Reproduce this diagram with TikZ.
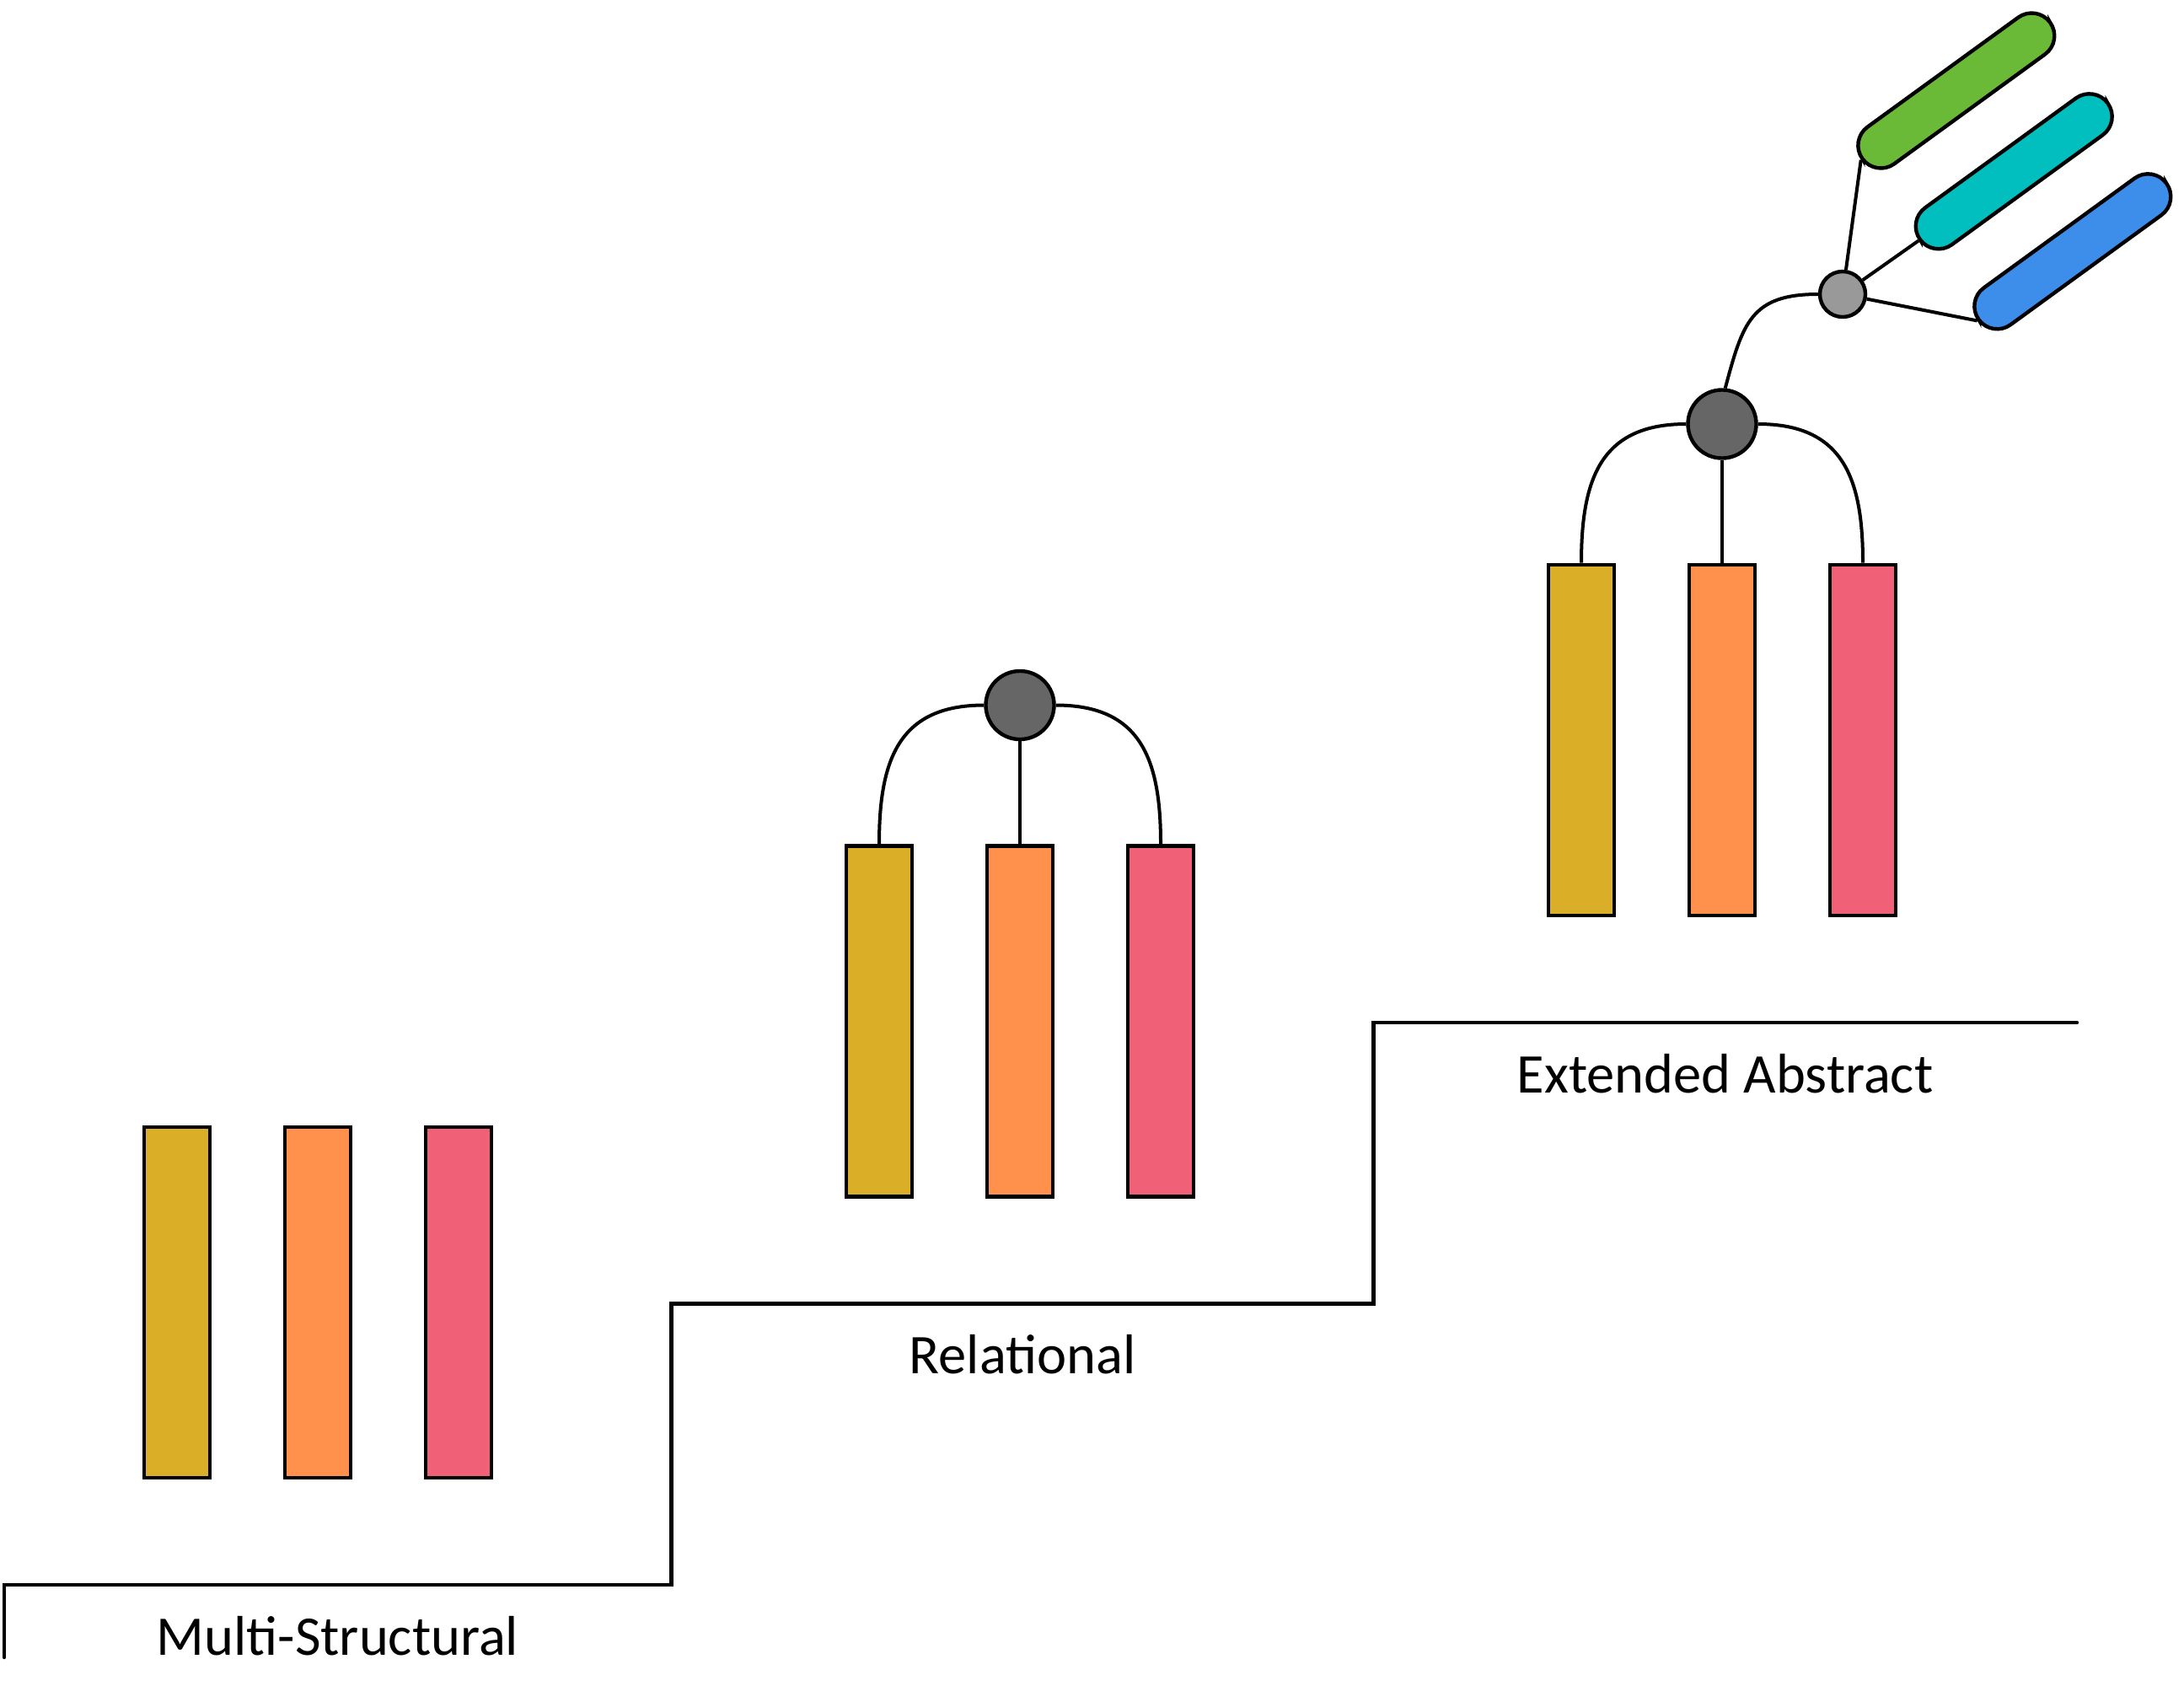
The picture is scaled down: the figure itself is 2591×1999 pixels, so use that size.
\documentclass[tikz,border=0pt]{standalone}
\usepackage{fontspec}
\setmainfont{Carlito}
\usepackage{tikz}

\definecolor{barYellow}{HTML}{DBAE28}
\definecolor{barOrange}{HTML}{FF914D}
\definecolor{barPink}{HTML}{F06077}
\definecolor{pillGreen}{HTML}{6BBA37}
\definecolor{pillCyan}{HTML}{02BFBF}
\definecolor{pillBlue}{HTML}{3D8DEB}
\definecolor{hubDark}{HTML}{666666}
\definecolor{hubLight}{HTML}{999999}

\begin{document}
\begin{tikzpicture}[x=0.01cm,y=-0.01cm,line width=0.044cm,
  bar/.style={draw,rectangle,inner sep=0pt,minimum width=0.78cm,minimum height=4.16cm},
  hub/.style={draw,circle,inner sep=0pt,fill=hubDark,minimum size=0.81cm},
  subhub/.style={draw,circle,inner sep=0pt,fill=hubLight,minimum size=0.54cm},
  pill/.style={draw,rectangle,inner sep=0pt,rounded corners=0.27cm,minimum width=2.75cm,minimum height=0.54cm,rotate=36},
  lbl/.style={anchor=base,inner sep=0pt,font=\fontsize{18.9pt}{23pt}\selectfont},
  link/.style={line width=0.04cm}]
\useasboundingbox (0,0) rectangle (2591,1999);

% staircase
\draw[line cap=round] (5,1966) -- (5,1880) -- (796.5,1880) -- (796.5,1546.5)
  -- (1629.5,1546.5) -- (1629.5,1213) -- (2464,1213);
\node[lbl] (mslbl) at (400.5,1963) {Multi-Structural};
\node[lbl] (rellbl) at (1213,1629.5) {Relational};
\node[lbl] (extlbl) at (2046.5,1296) {Extended Abstract};

% bars, one group per level
\foreach \lvl/\dx/\dy in {ms/0/0, rel/833/-333.5, ext/1666/-667}
  \foreach \k/\col in {1/barYellow,2/barOrange,3/barPink}
    \node[bar,fill=\col] (\lvl\k) at ({210+167*(\k-1)+\dx},{1545+\dy}) {};

% relational hub
\node[hub] (rhub) at (1210,836.5) {};
\draw[link] (rhub) -- (rel2);
\draw[link] (rhub.west) to[out=180,in=90,looseness=1.25] (rel1.north);
\draw[link] (rhub.east) to[out=0,in=90,looseness=1.25] (rel3.north);

% extended hub
\node[hub] (ehub) at (2043,503) {};
\draw[link] (ehub) -- (ext2);
\draw[link] (ehub.west) to[out=180,in=90,looseness=1.25] (ext1.north);
\draw[link] (ehub.east) to[out=0,in=90,looseness=1.25] (ext3.north);

% abstraction beyond
\node[subhub] (shub) at (2186,349) {};
\node[pill,fill=pillGreen] (green) at (2320.8,107.5) {};
\node[pill,fill=pillCyan] (cyan) at (2389.2,203.3) {};
\node[pill,fill=pillBlue] (blue) at (2458.8,298.3) {};
\draw[link] (shub.west) to[out=180,in=75,looseness=1.3] (ehub.85);
\foreach \p in {green,cyan,blue}
  \draw[link] (shub) -- (\p.west);
\end{tikzpicture}
\end{document}
